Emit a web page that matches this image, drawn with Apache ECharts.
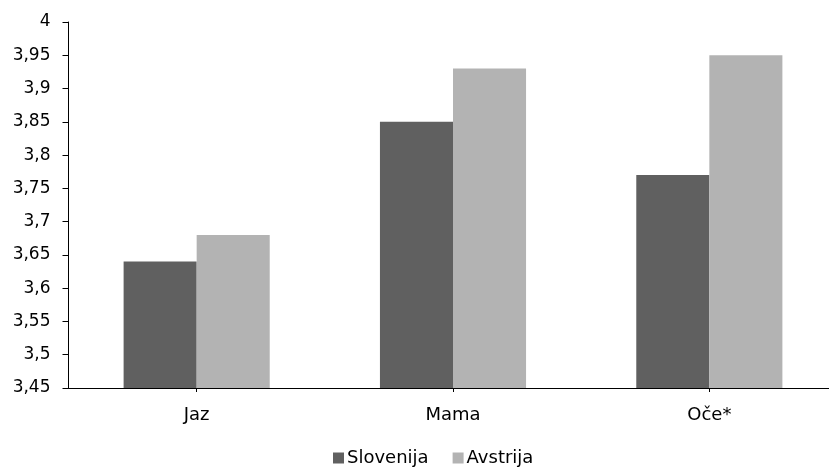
<!DOCTYPE html>
<html>
<head>
<meta charset="utf-8">
<script src="https://cdn.jsdelivr.net/npm/echarts@6/dist/echarts.min.js"></script>
<style>
  html, body { margin: 0; padding: 0; background: #fff; overflow: hidden; }
  /* drawing surface is a little wider than the window so the axis runs off the right edge */
  #chart { width: 838px; height: 468px; }
</style>
</head>
<body>
<div id="chart"></div>
<script>
// Categories and values for the two countries
const categories = ['Jaz', 'Mama', 'Oče*'];
const slovenija = [3.64, 3.85, 3.77];
const avstrija = [3.68, 3.93, 3.95];
const seriesNames = ['Slovenija', 'Avstrija'];

const yMin = 3.45, yMax = 4, yStep = 0.05;
const fontFamily = 'DejaVu Sans, Liberation Sans, Arial, sans-serif';

const chart = echarts.init(document.getElementById('chart'), null, { renderer: 'canvas' });

chart.setOption({
  animation: false,
  backgroundColor: '#ffffff',
  textStyle: { fontFamily: fontFamily, color: '#000' },
  grid: { left: 68.5, right: 0.5, top: 22, bottom: 80, containLabel: false },
  legend: {
    data: seriesNames,
    top: 449,
    left: 333,
    padding: 0,
    icon: 'rect',
    itemWidth: 11,
    itemHeight: 11,
    itemGap: 24,
    textStyle: { fontSize: 18, color: '#000', fontFamily: fontFamily, padding: [0, 0, 0, -2] }
  },
  xAxis: {
    type: 'category',
    data: categories,
    boundaryGap: true,
    axisLine: { lineStyle: { color: '#000', width: 1 } },
    axisTick: { show: true, alignWithLabel: true, length: 4, lineStyle: { color: '#000' } },
    axisLabel: { margin: 18, fontSize: 18, color: '#000', fontFamily: fontFamily },
    splitLine: { show: false }
  },
  yAxis: {
    type: 'value',
    min: yMin,
    max: yMax,
    interval: yStep,
    axisLine: { show: true, lineStyle: { color: '#000', width: 1 } },
    axisTick: { show: true, inside: false, length: 6, lineStyle: { color: '#000' } },
    axisLabel: {
      margin: 18,
      fontSize: 17,
      color: '#000',
      fontFamily: fontFamily,
      formatter: v => String(Math.round(v * 100) / 100).replace('.', ',')
    },
    splitLine: { show: false }
  },
  series: [
    {
      name: seriesNames[0],
      type: 'bar',
      data: slovenija,
      barWidth: '28.5%',
      barGap: '0%',
      itemStyle: { color: '#606060' }
    },
    {
      name: seriesNames[1],
      type: 'bar',
      data: avstrija,
      barWidth: '28.5%',
      barGap: '0%',
      itemStyle: { color: '#b3b3b3' }
    }
  ]
});
</script>
</body>
</html>
